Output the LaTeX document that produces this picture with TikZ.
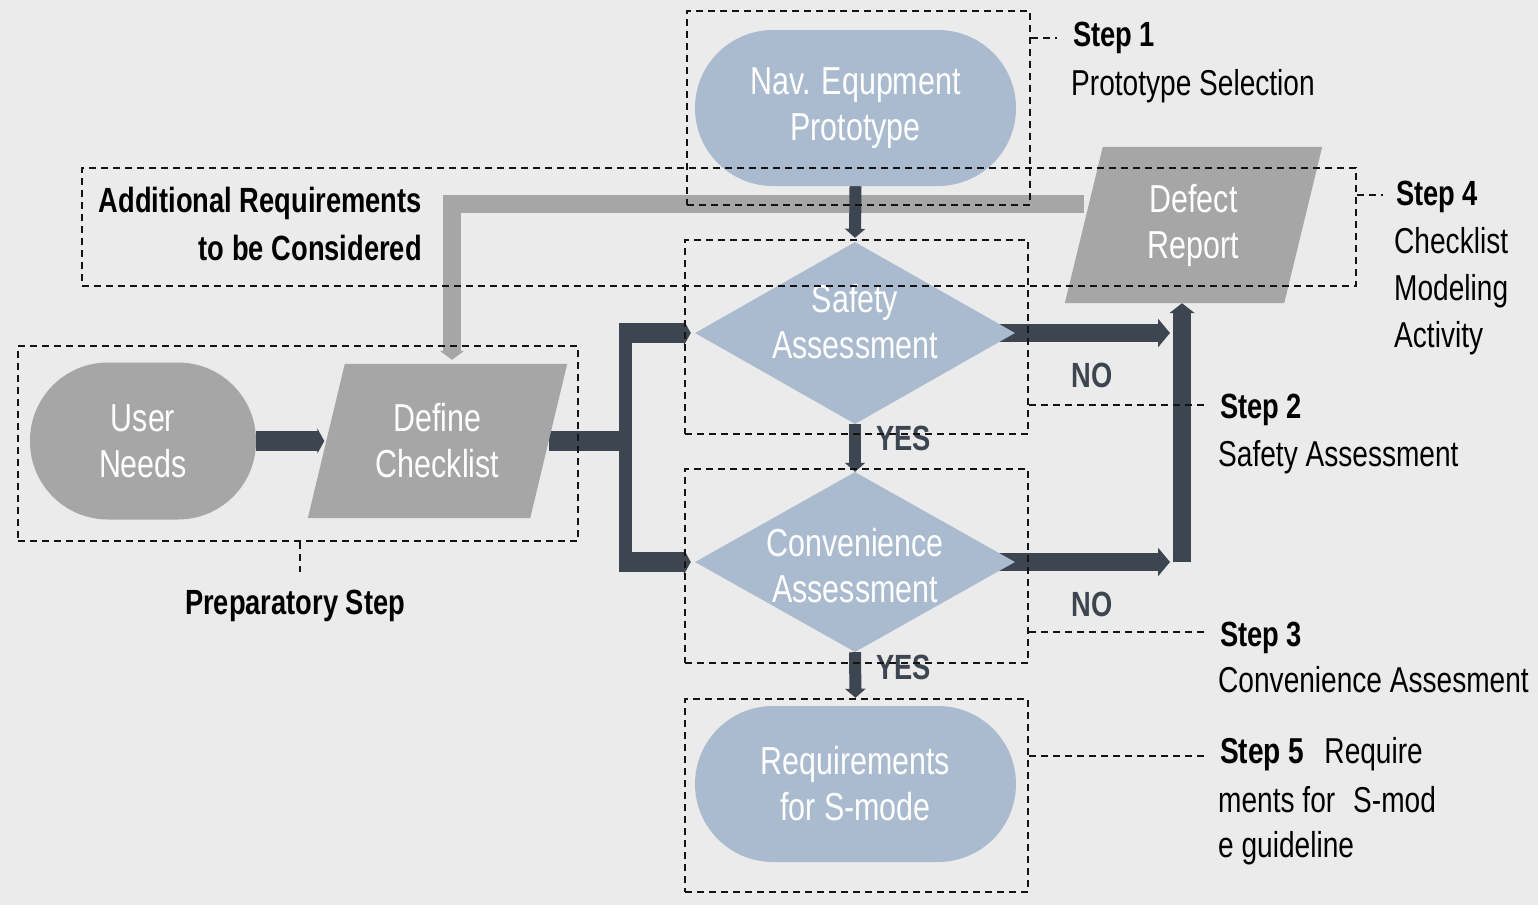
\documentclass[tikz,border=0pt]{standalone}
\usepackage{fontspec}
\setmainfont{Liberation Sans}[FakeStretch=0.78]
\usetikzlibrary{arrows.meta,shapes.geometric}

\definecolor{canvas}{HTML}{EBEBEB}
\definecolor{paleblue}{HTML}{AABBCF}
\definecolor{stone}{HTML}{A6A6A6}
\definecolor{slate}{HTML}{3D4550}
\definecolor{framec}{HTML}{141414}

\pgfdeclarelayer{backdrop}
\pgfdeclarelayer{links}
\pgfdeclarelayer{plates}
\pgfdeclarelayer{frames}
\pgfsetlayers{backdrop,links,plates,main,frames}

\tikzset{
  wtext/.style={text=white, font=\fontsize{39}{46}\selectfont, align=center, inner sep=0},
  stadium/.style={rectangle, rounded corners=78pt, minimum width=321pt, minimum height=156pt, inner sep=0},
  decision/.style={diamond, fill=paleblue, minimum width=320pt, minimum height=182pt, inner sep=0},
  plate/.style={rectangle, minimum width=222pt, minimum height=154pt, inner sep=0},
  frame/.style={rectangle, draw=framec, line width=2pt, dash pattern=on 7pt off 5pt, inner sep=0},
  leader/.style={draw=framec, line width=2pt, dash pattern=on 7pt off 5pt},
  lab/.style={font=\fontsize{36}{46}\selectfont, inner sep=0, anchor=base west, text=black},
  blab/.style={font=\fontsize{35}{46}\selectfont\bfseries, inner sep=0, anchor=base west, text=black},
  yn/.style={font=\fontsize{35}{46}\selectfont\bfseries, inner sep=0, text=slate},
  thinflow/.style={draw=slate, line width=12pt, -{Triangle[width=20pt,length=9pt]}},
  barline/.style={draw=slate, line width=20pt},
  vbar/.style={draw=slate, line width=13pt},
  barflow/.style={draw=slate, line width=20pt, -{Triangle[width=25pt,length=7pt]}},
  noflow/.style={draw=slate, line width=18pt, -{Triangle[width=28pt,length=12pt]}},
  upflow/.style={draw=slate, line width=18pt, -{Triangle[width=25pt,length=10pt]}},
  grayflow/.style={draw=stone, line width=18pt, -{Triangle[width=24pt,length=9pt]}},
}

\begin{document}
\begin{tikzpicture}[x=1pt,y=-1pt]
\begin{pgfonlayer}{backdrop}
  \fill[canvas] (0,0) rectangle (1538,905);
  \fill[white] (0,905) rectangle (1538,908);
\end{pgfonlayer}
\useasboundingbox (0,0) rectangle (1538,908);

% process shapes
\node[stadium, fill=paleblue, wtext] (nav) at (855.5,108) {Nav. Equpment\\Prototype};
\node[decision] (safety) at (855,333) {};
\node[wtext] (safetyt) at (855,322) {Safety\\Assessment};
\node[decision, minimum height=180pt] (conv) at (855,562) {};
\node[wtext] (convt) at (855,566) {Convenience\\Assessment};
\node[stadium, fill=paleblue, wtext] (req) at (855.5,784) {Requirements\\for S-mode};
\node[stadium, fill=stone, wtext, minimum width=226pt, minimum height=157pt] (usr) at (143,441) {User\\Needs};
\node[plate, wtext] (def) at (437.5,441) {Define\\Checklist};
\node[plate, wtext, minimum width=219pt, minimum height=156pt] (defect) at (1193.5,225) {Defect\\Report};

% parallelogram bodies behind their texts
\begin{pgfonlayer}{plates}
  \fill[stone] ([xshift=18.5pt]def.north west) -- ([xshift=18.5pt]def.north east)
    -- ([xshift=-18.5pt]def.south east) -- ([xshift=-18.5pt]def.south west) -- cycle;
  \fill[stone] ([xshift=19pt]defect.north west) -- ([xshift=19pt]defect.north east)
    -- ([xshift=-19pt]defect.south east) -- ([xshift=-19pt]defect.south west) -- cycle;
\end{pgfonlayer}

% connectors
\coordinate (br) at (625.5,441);
\coordinate (vb) at (1182,562);
\coordinate (noend1) at (1170,333);
\coordinate (noend2) at (1170,562);
\begin{pgfonlayer}{links}
  \draw[grayflow] ([yshift=21pt]defect.west) -| ([xshift=14.5pt,yshift=4pt]def.north);
  \draw[thinflow] (nav.south) -- ([yshift=4pt]safety.north);
  \draw[thinflow] (safety.south) -- (conv.north);
  \draw[thinflow] (conv.south) -- ([yshift=8pt]req.north);
  \draw[barflow] (usr.east) -- ([xshift=-2pt]def.west);
  \draw[barline] (def.east) -- (br);
  \draw[vbar] ([yshift=10pt]br |- safety.west) -- ([yshift=-10pt]br |- conv.west);
  \draw[barflow] ([xshift=-6.5pt]br |- safety.west) -- ([xshift=-4pt]safety.west);
  \draw[barflow] ([xshift=-6.5pt]br |- conv.west) -- ([xshift=-4pt]conv.west);
  \draw[noflow] ([xshift=-18pt]safety.east) -- (noend1);
  \draw[noflow] ([xshift=-18pt]conv.east) -- (noend2);
  \draw[upflow] (vb) -- (vb |- defect.south);
\end{pgfonlayer}

% decision labels
\node[yn, anchor=base] (no1) at (1092,387) {NO};
\node[yn, anchor=base] (no2) at (1092,616) {NO};
\node[yn, anchor=base west] (yes1) at (876,450) {YES};
\node[yn, anchor=base west] (yes2) at (876,679) {YES};

% step frames and their leaders
\begin{pgfonlayer}{frames}
  \node[frame, minimum width=343pt, minimum height=194pt] (f1) at (858.5,108) {};
  \node[frame, minimum width=1274pt, minimum height=118pt] (f4) at (719,227) {};
  \node[frame, minimum width=343pt, minimum height=194pt] (f2) at (856.5,337) {};
  \node[frame, minimum width=343pt, minimum height=194pt] (f3) at (856.5,566) {};
  \node[frame, minimum width=343pt, minimum height=193pt] (f5) at (856.5,795.5) {};
  \node[frame, minimum width=560pt, minimum height=195pt] (fp) at (298,443.5) {};
  \coordinate (l1) at (1057,38);
  \coordinate (l4) at (1383,195);
  \coordinate (l2) at (1207,405);
  \coordinate (l3) at (1207,632);
  \coordinate (l5) at (1207,756);
  \coordinate (lp) at (300,572);
  \draw[leader] (f1.east |- l1) -- (l1);
  \draw[leader] (f4.east |- l4) -- (l4);
  \draw[leader] (f2.east |- l2) -- (l2);
  \draw[leader] (f3.east |- l3) -- (l3);
  \draw[leader] (f5.east |- l5) -- (l5);
  \draw[leader] (fp.south -| lp) -- (lp);
\end{pgfonlayer}

% step descriptions
\node[blab] (s1a) at (1073,46) {Step 1};
\node[lab] (s1b) at (1071,95) {Prototype Selection};
\node[blab] (s4a) at (1396,205) {Step 4};
\node[lab] (s4b) at (1394,253) {Checklist};
\node[lab] (s4c) at (1394,300) {Modeling};
\node[lab] (s4d) at (1394,347) {Activity};
\node[blab] (s2a) at (1220,418) {Step 2};
\node[lab] (s2b) at (1218,466) {Safety Assessment};
\node[blab] (s3a) at (1220,646) {Step 3};
\node[lab] (s3b) at (1218,692) {Convenience Assesment};
\node[lab] (s5a) at (1220,763) {{\bfseries Step 5}\hspace*{20pt}Require};
\node[lab] (s5b) at (1218,812) {ments for\hspace*{18pt}S-mod};
\node[lab] (s5c) at (1218,857) {e guideline};
\node[blab, anchor=base east] (addA) at (422,212) {Additional Requirements};
\node[blab, anchor=base east] (addB) at (422,260) {to be Considered};
\node[blab, anchor=base] (prep) at (295,614) {Preparatory Step};
\end{tikzpicture}
\end{document}
